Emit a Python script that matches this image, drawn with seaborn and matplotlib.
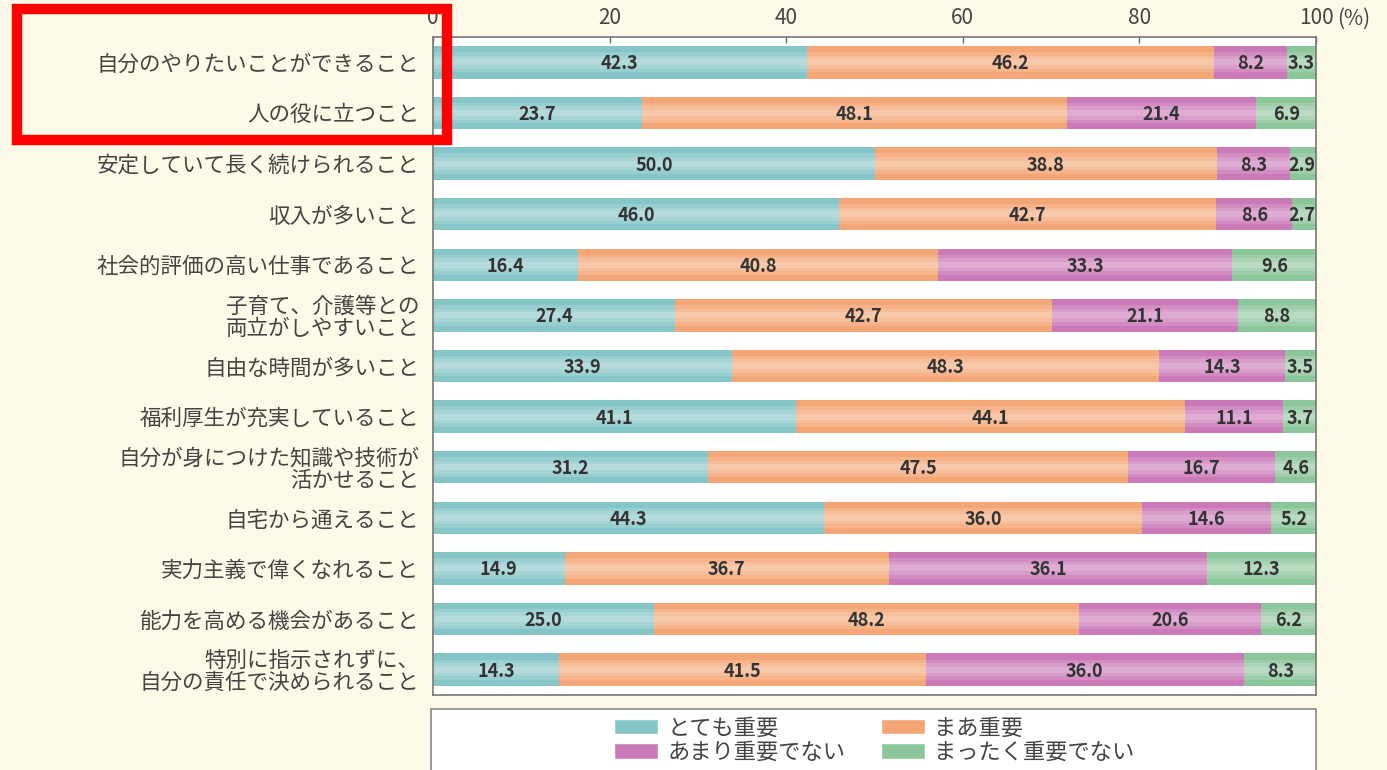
import numpy as np
import pandas as pd
import matplotlib
matplotlib.use("Agg")
import matplotlib.pyplot as plt
from matplotlib.patches import Patch, Rectangle
import seaborn as sns

categories = [
    "自分のやりたいことができること",
    "人の役に立つこと",
    "安定していて長く続けられること",
    "収入が多いこと",
    "社会的評価の高い仕事であること",
    "子育て、介護等との\n両立がしやすいこと",
    "自由な時間が多いこと",
    "福利厚生が充実していること",
    "自分が身につけた知識や技術が\n活かせること",
    "自宅から通えること",
    "実力主義で偉くなれること",
    "能力を高める機会があること",
    "特別に指示されずに、\n自分の責任で決められること",
]
very_important = [42.3, 23.7, 50.0, 46.0, 16.4, 27.4, 33.9, 41.1, 31.2, 44.3, 14.9, 25.0, 14.3]
somewhat_important = [46.2, 48.1, 38.8, 42.7, 40.8, 42.7, 48.3, 44.1, 47.5, 36.0, 36.7, 48.2, 41.5]
not_very_important = [8.2, 21.4, 8.3, 8.6, 33.3, 21.1, 14.3, 11.1, 16.7, 14.6, 36.1, 20.6, 36.0]
not_important = [3.3, 6.9, 2.9, 2.7, 9.6, 8.8, 3.5, 3.7, 4.6, 5.2, 12.3, 6.2, 8.3]
series_names = ["とても重要", "まあ重要", "あまり重要でない", "まったく重要でない"]
x_ticks = [0, 20, 40, 60, 80, 100]

colors = ["#86C6C8", "#F5A676", "#CB7AB9", "#8CC79B"]

sns.set_theme(style="white")
plt.rcParams["font.family"] = ["Noto Sans CJK JP", "DejaVu Sans"]

df = pd.DataFrame({
    "cat": categories,
    "s1": very_important,
    "s2": somewhat_important,
    "s3": not_very_important,
    "s4": not_important,
})
vals = df[["s1", "s2", "s3", "s4"]].to_numpy()
cum = np.cumsum(vals, axis=1)
starts = cum - vals

fig = plt.figure(figsize=(13.87, 7.70), dpi=100)
fig.patch.set_facecolor("#FDFAE8")
ax = fig.add_axes([433 / 1387, 1 - 695 / 770, (1316 - 433) / 1387, (695 - 37) / 770])
ax.set_facecolor("white")

bar_h = 0.64
for k in range(3, -1, -1):
    sns.barplot(x=cum[:, k], y=df["cat"], order=categories, orient="h",
                color=colors[k], saturation=1, width=bar_h, errorbar=None,
                linewidth=0, ax=ax)

# soft highlight band to imitate the glossy gradient
ypos = np.arange(len(categories))
for k in range(4):
    for h, a in [(0.40, 0.14), (0.26, 0.16), (0.12, 0.16)]:
        ax.barh(ypos, vals[:, k], left=starts[:, k], height=h,
                color="white", alpha=a, linewidth=0)

# value labels
for i in range(len(categories)):
    for k in range(4):
        cx = starts[i, k] + vals[i, k] / 2
        if k == 3:
            cx = min(cx, 100 - 1.6)
        ax.text(cx, i + 0.03, f"{vals[i, k]:.1f}", ha="center", va="center",
                fontsize=13, fontweight="bold", color="#333333")

ax.set_xlim(0, 100)
ax.set_ylim(len(categories) - 0.5, -0.5)
ax.set_xlabel("")
ax.set_ylabel("")
ax.xaxis.tick_top()
ax.set_xticks(x_ticks)
ax.set_xticklabels([str(t) for t in x_ticks], fontsize=15, color="#444444")
ax.tick_params(axis="x", direction="in", length=4, width=1, color="#666666", pad=6)
ax.tick_params(axis="y", length=0, pad=10)
ax.set_yticks(ypos)
ax.set_yticklabels(categories, fontsize=15.5, color="#444444", linespacing=1.0)
for sp in ax.spines.values():
    sp.set_visible(True)
    sp.set_color("#777777")
    sp.set_linewidth(1.2)
ax.text(1.024, 1.0 + 7 / 658, "(%)", transform=ax.transAxes, ha="left", va="bottom",
        fontsize=15, color="#444444")

# legend box
fig.patches.append(Rectangle((431 / 1387, -0.05), (1316 - 431) / 1387, 0.05 + (770 - 709) / 770,
                             transform=fig.transFigure, facecolor="white",
                             edgecolor="#888888", linewidth=1.2, zorder=1))
handles = [Patch(facecolor=colors[0]), Patch(facecolor=colors[2]),
           Patch(facecolor=colors[1]), Patch(facecolor=colors[3])]
labels = [series_names[0], series_names[2], series_names[1], series_names[3]]
leg = fig.legend(handles, labels, ncol=2, loc="center",
                 bbox_to_anchor=(874 / 1387, 1 - 740 / 770), frameon=False,
                 fontsize=16, handlelength=2.0, handleheight=0.7,
                 handletextpad=0.4, columnspacing=1.6, labelspacing=0.05)
for t in leg.get_texts():
    t.set_color("#444444")

# red highlight rectangle
fig.patches.append(Rectangle((17 / 1387, 1 - 140 / 770), (447 - 17) / 1387, (140 - 9) / 770,
                             transform=fig.transFigure, facecolor="none",
                             edgecolor="#FF0000", linewidth=7.5, zorder=10))

fig.savefig("out.png", dpi=100, facecolor=fig.get_facecolor())
